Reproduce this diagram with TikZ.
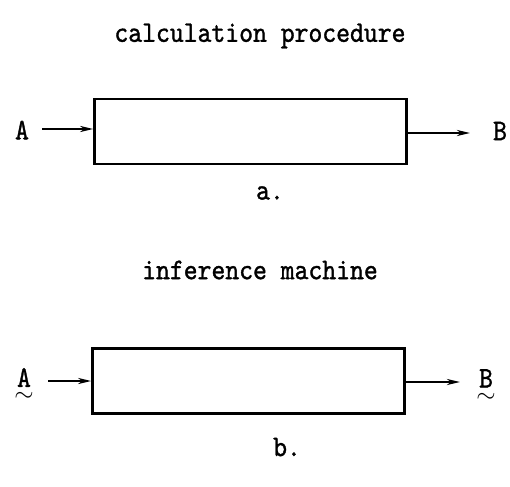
\documentclass[tikz,border=0pt]{standalone}
\usepackage{amsmath}
\usepackage{fontspec}
\usetikzlibrary{arrows.meta}
\newfontfamily\heavytt{lmmono10-regular.otf}[FakeBold=1.1, FakeStretch=0.88]
\begin{document}
\begin{tikzpicture}[x=1pt,y=-1pt,
  lbl/.style={font=\fontsize{30}{34}\selectfont\heavytt, inner sep=0pt},
  proc/.style={draw, line width=2.6pt, minimum width=312pt, minimum height=65pt, inner sep=0pt},
  flow/.style={line width=2.2pt, -{Stealth[length=13pt,width=6pt,inset=4pt]}}]
\useasboundingbox (0,0) rectangle (510,486);
% part a
\node[lbl] (ta) at (260,36) {calculation procedure};
\node[proc] (boxa) at (250.5,131.5) {};
\node[lbl] (Aa) at (22,130) {A};
\node[lbl] (Ba) at (500,131) {B};
\node[lbl] (la) at (270,193) {a.};
\coordinate (sa) at (42,129);
\draw[flow] (sa) -- (sa -| boxa.west);
\coordinate (ea) at (470,133);
\draw[flow] (ea -| boxa.east) -- (ea);
% part b
\node[lbl] (tb) at (260,270) {inference machine};
\node[proc] (boxb) at (248.5,381) {};
\node[lbl, anchor=north] (Ab) at (24,368) {$\underset{\textstyle\sim}{\text{\heavytt A}}$};
\node[lbl, anchor=north] (Bb) at (486,369) {$\underset{\textstyle\sim}{\text{\heavytt B}}$};
\node[lbl] (lb) at (287,447) {b.};
\coordinate (sb) at (48,381);
\draw[flow] (sb) -- (sb -| boxb.west);
\coordinate (eb) at (460,382);
\draw[flow] (eb -| boxb.east) -- (eb);
\end{tikzpicture}
\end{document}
